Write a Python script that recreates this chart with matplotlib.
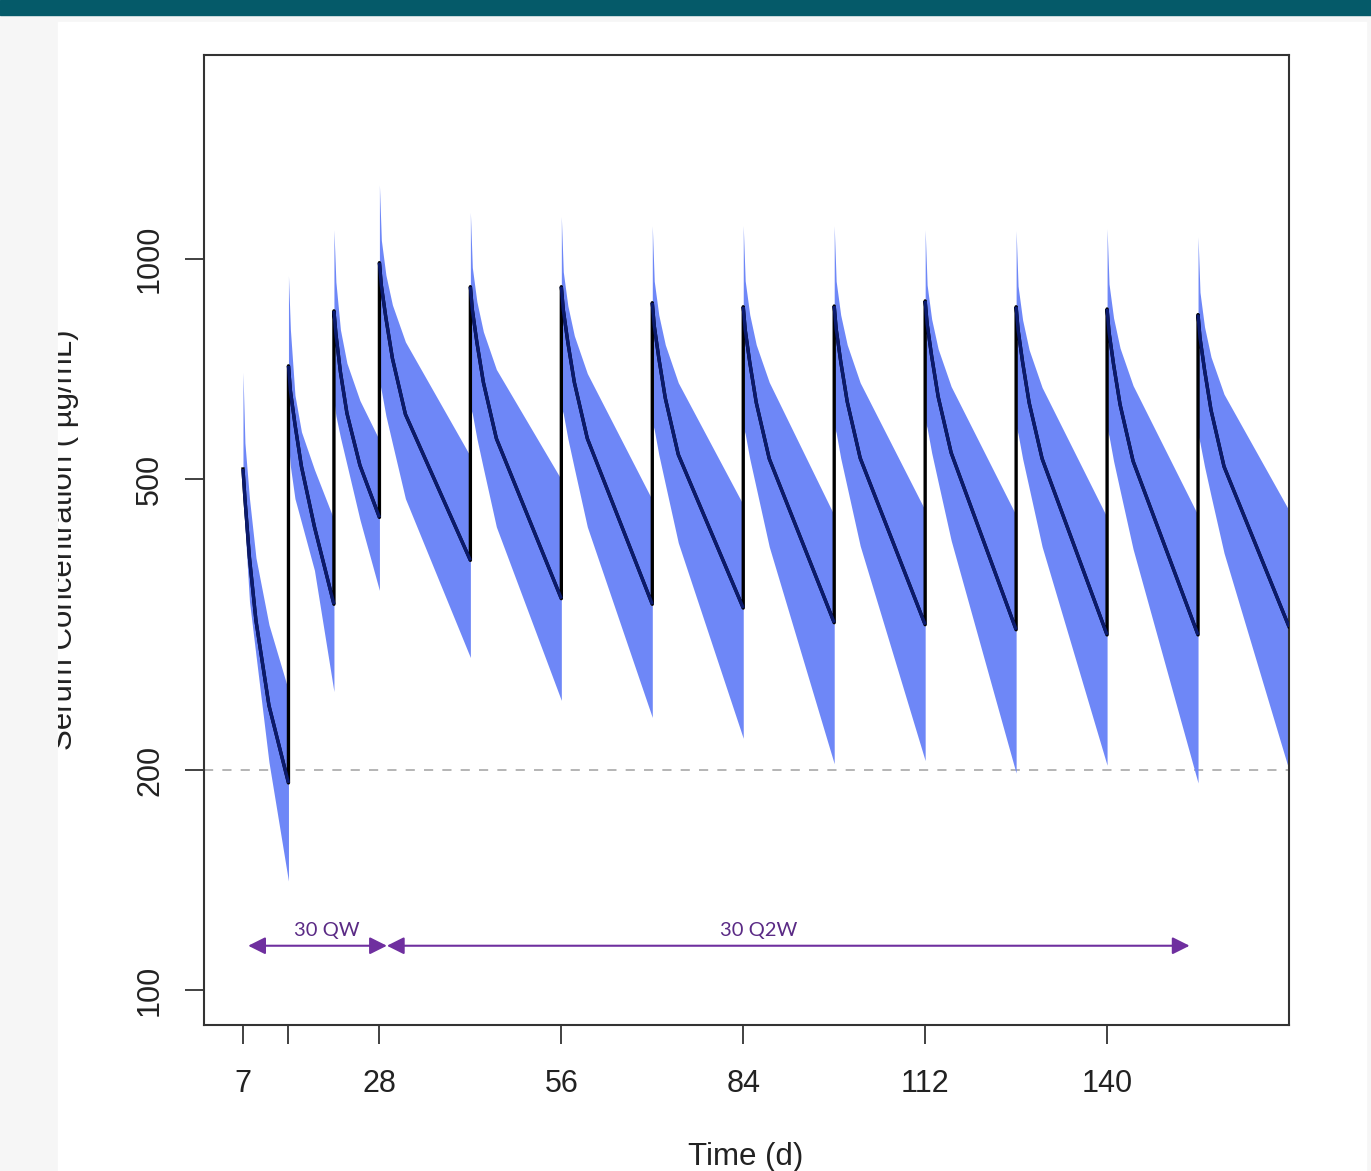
import numpy as np
import matplotlib.pyplot as plt
from matplotlib.patches import Rectangle

# dosing schedule (days) and sampling offsets inside each dosing interval
dose_days = [7, 14, 21, 28, 42, 56, 70, 84, 98, 112, 126, 140, 154]
end_day = 168
offsets = [0, 0.3, 1, 2, 4]

# median and 90% band (ug/mL) at offsets + end of interval
median = [
    [516, 470, 390, 320, 245, 192],
    [714, 660, 594, 520, 430, 337],
    [849, 790, 700, 615, 522, 443],
    [988, 919, 830, 731, 613, 387],
    [916, 852, 769, 678, 568, 343],
    [916, 852, 769, 678, 568, 337],
    [871, 810, 732, 645, 540, 333],
    [860, 800, 722, 636, 533, 318],
    [862, 802, 724, 638, 534, 316],
    [876, 815, 736, 648, 543, 311],
    [860, 800, 722, 636, 533, 306],
    [854, 794, 717, 632, 529, 306],
    [839, 780, 705, 621, 520, 314],
]
lower = [
    [480, 430, 340, 287, 205, 141],
    [560, 520, 470, 436, 375, 256],
    [640, 610, 570, 523, 440, 352],
    [680, 660, 610, 559, 470, 285],
    [627, 614, 568, 517, 430, 249],
    [627, 614, 568, 517, 430, 236],
    [597, 584, 540, 492, 409, 221],
    [589, 576, 533, 486, 404, 204],
    [590, 578, 534, 487, 405, 206],
    [600, 587, 543, 495, 412, 198],
    [589, 576, 533, 486, 404, 203],
    [585, 572, 529, 482, 401, 192],
    [574, 560, 520, 474, 396, 200],
]
upper = [
    [700, 560, 470, 390, 316, 257],
    [948, 800, 651, 580, 515, 440],
    [1096, 930, 800, 720, 640, 565],
    [1262, 1060, 950, 865, 770, 537],
    [1158, 973, 874, 795, 706, 499],
    [1143, 960, 863, 785, 697, 468],
    [1110, 932, 838, 763, 677, 461],
    [1111, 933, 839, 763, 678, 446],
    [1110, 932, 838, 763, 677, 453],
    [1096, 921, 827, 753, 669, 446],
    [1093, 918, 825, 751, 667, 443],
    [1100, 924, 830, 755, 671, 446],
    [1072, 900, 807, 734, 653, 453],
]

xticks = [7, 14, 28, 56, 84, 112, 140]
xticklabels = ["7", "", "28", "56", "84", "112", "140"]
yticks = [100, 200, 500, 1000]
target_conc = 200
# regimen label, arrow start, arrow end, label position (days)
regimens = [("30 QW", 7.8, 29.15, 19.9), ("30 Q2W", 29.15, 152.7, 86.3)]
arrow_y = 115

band_col = "#6e87f7"
line_col = "#0b1a6c"
purple = "#6f2f9f"

plt.rcParams["font.family"] = ["Liberation Sans", "DejaVu Sans"]

W, H = 1371, 1171
fig = plt.figure(figsize=(W / 100, H / 100), dpi=100, facecolor="#f6f6f6")

# banner + white panel
fig.patches.append(Rectangle((0, 1 - 15 / H), 1, 15 / H, transform=fig.transFigure,
                             color="#055a69", zorder=0))
panel = Rectangle((58 / W, 0), (1366 - 58) / W, (H - 22) / H, transform=fig.transFigure,
                  color="white", zorder=0)
fig.patches.append(panel)

ax = fig.add_axes([204 / W, 1 - 1025 / H, (1289 - 204) / W, (1025 - 55) / H])
ax.set_zorder(2)
ax.set_yscale("log")

# build time axis per interval
cyc_t = []
for i, d in enumerate(dose_days):
    nxt = dose_days[i + 1] if i + 1 < len(dose_days) else end_day
    cyc_t.append([d + o for o in offsets] + [nxt])

for t, lo, hi in zip(cyc_t, lower, upper):
    ax.fill_between(t, lo, hi, color=band_col, lw=0, zorder=2)

all_t = np.concatenate(cyc_t)
all_m = np.concatenate(median)
ax.plot(all_t, all_m, color="black", lw=2.4, zorder=3)
for t, m in zip(cyc_t, median):
    ax.plot(t, m, color=line_col, lw=2.4, zorder=4, solid_capstyle="butt",
            solid_joinstyle="round")

ax.axhline(target_conc, color="#a0a0a0", lw=1.1, ls=(0, (6, 6)), zorder=1)

# regimen arrows
for label, x0, x1, xl in regimens:
    ax.annotate("", xy=(x0, arrow_y), xytext=(x1, arrow_y),
                arrowprops=dict(arrowstyle="<|-|>", color=purple, lw=1.5,
                                mutation_scale=26, shrinkA=0, shrinkB=0))
    ax.text(xl, arrow_y * 1.02, label, color="#5a2a85", fontsize=14.5,
            family=["Lato", "DejaVu Sans"], ha="center", va="bottom")

ax.set_xlim(1, 168)
ax.set_ylim(89.6, 1900)
ax.set_xticks(xticks)
ax.set_xticklabels(xticklabels)
ax.set_yticks(yticks)
ax.set_yticklabels([str(v) for v in yticks])
ax.yaxis.set_minor_locator(plt.NullLocator())
ax.tick_params(axis="both", length=14, width=1.3, color="#333333", labelsize=22,
               labelcolor="#222222")
ax.tick_params(axis="x", pad=18)
ax.tick_params(axis="y", pad=14, labelrotation=90)
for lab in ax.get_yticklabels():
    lab.set_va("center")
for s in ax.spines.values():
    s.set_linewidth(1.5)
    s.set_color("#333333")

ylab = fig.text(64 / W, 1 - 540 / H, "Serum Concentration ( µg/mL)", rotation=90,
                ha="center", va="center", fontsize=22.5, color="#222222")
ylab.set_clip_path(panel)
fig.text(746 / W, 1 - 1157 / H, "Time (d)", ha="center", va="center", fontsize=22.5,
         color="#222222")

fig.savefig("out.png", dpi=100, facecolor=fig.get_facecolor())
